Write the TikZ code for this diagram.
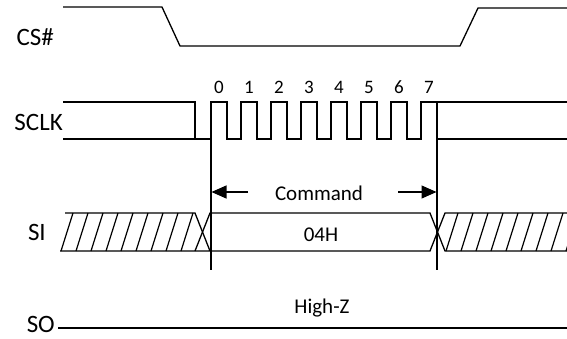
\documentclass[tikz,border=0pt]{standalone}
\usepackage{fontspec}
\setmainfont{Carlito}
\usetikzlibrary{arrows.meta}
\begin{document}
\begin{tikzpicture}[x=1pt,y=-1pt,
  wave/.style={line width=1.3pt,line join=miter},
  hatch/.style={line width=1.2pt},
  marker/.style={line width=1.2pt},
  sig/.style={inner sep=0pt,anchor=base east,font=\fontsize{25}{29}\selectfont},
  lbl/.style={inner sep=0pt,anchor=base,font=\fontsize{21}{25}\selectfont},
  num/.style={inner sep=0pt,anchor=base,font=\fontsize{19}{23}\selectfont},
  arr/.style={line width=1.2pt,-{Triangle[length=15pt,width=13pt]}}]
\useasboundingbox (0,0) rectangle (567,338);
% signal names
\node[sig] (cs) at (54,45) {CS\#};
\node[sig] (sclk) at (63,130) {SCLK};
\node[sig] (si) at (46,240) {SI};
\node[sig] (so) at (55,332) {SO};
% CS#
\draw[wave] (63,7) -- (162,7) -- (180,46) -- (460,46) -- (478,8) -- (567,8);
% SCLK
\draw[wave] (63,102) -- (195,102) -- (195,139);
\draw[wave] (63,139) -- (211,139)
  \foreach \k in {0,...,6} { -- (211+30*\k,102) -- (227+30*\k,102) -- (227+30*\k,139) -- (241+30*\k,139) }
  -- (421,102) -- (567,102);
\draw[wave] (437,139) -- (567,139);
\foreach \k in {0,...,7} \node[num] (n\k) at (219+30*\k,93) {\k};
% markers
\coordinate (m1t) at (211,102);
\coordinate (m1b) at (211,270);
\coordinate (m2t) at (437,102);
\coordinate (m2b) at (437,270);
\draw[marker] (m1t) -- (m1b);
\draw[marker] (m2t) -- (m2b);
% Command arrows
\node[lbl] (cmd) at (319,200.5) {Command};
\coordinate (a1s) at (248,192);
\coordinate (a1e) at (211.5,192);
\coordinate (a2s) at (398,192);
\coordinate (a2e) at (436.5,192);
\draw[arr] (a1s) -- (a1e);
\draw[arr] (a2s) -- (a2e);
% SI
\draw[wave] (65,213) -- (195,213) -- (210,251) -- (60,251);
\draw[wave] (195,251) -- (210,213) -- (430,213) -- (445,251) -- (567,251);
\draw[wave] (210,251) -- (430,251) -- (445,213) -- (567,213);
\foreach \k in {0,...,8} \draw[hatch] (61+15*\k,251) -- (73+15*\k,213);
\begin{scope}
\clip (440,200) rectangle (567,260);
\foreach \k in {0,...,8} \draw[hatch] (446+15*\k,251) -- (458+15*\k,213);
\end{scope}
\node[lbl] (cmdval) at (321,241) {04H};
% SO
\coordinate (sos) at (58,328);
\coordinate (soe) at (567,328);
\draw[wave] (sos) -- (soe);
\node[lbl] (hz) at (322,313.5) {High-Z};
\end{tikzpicture}
\end{document}
